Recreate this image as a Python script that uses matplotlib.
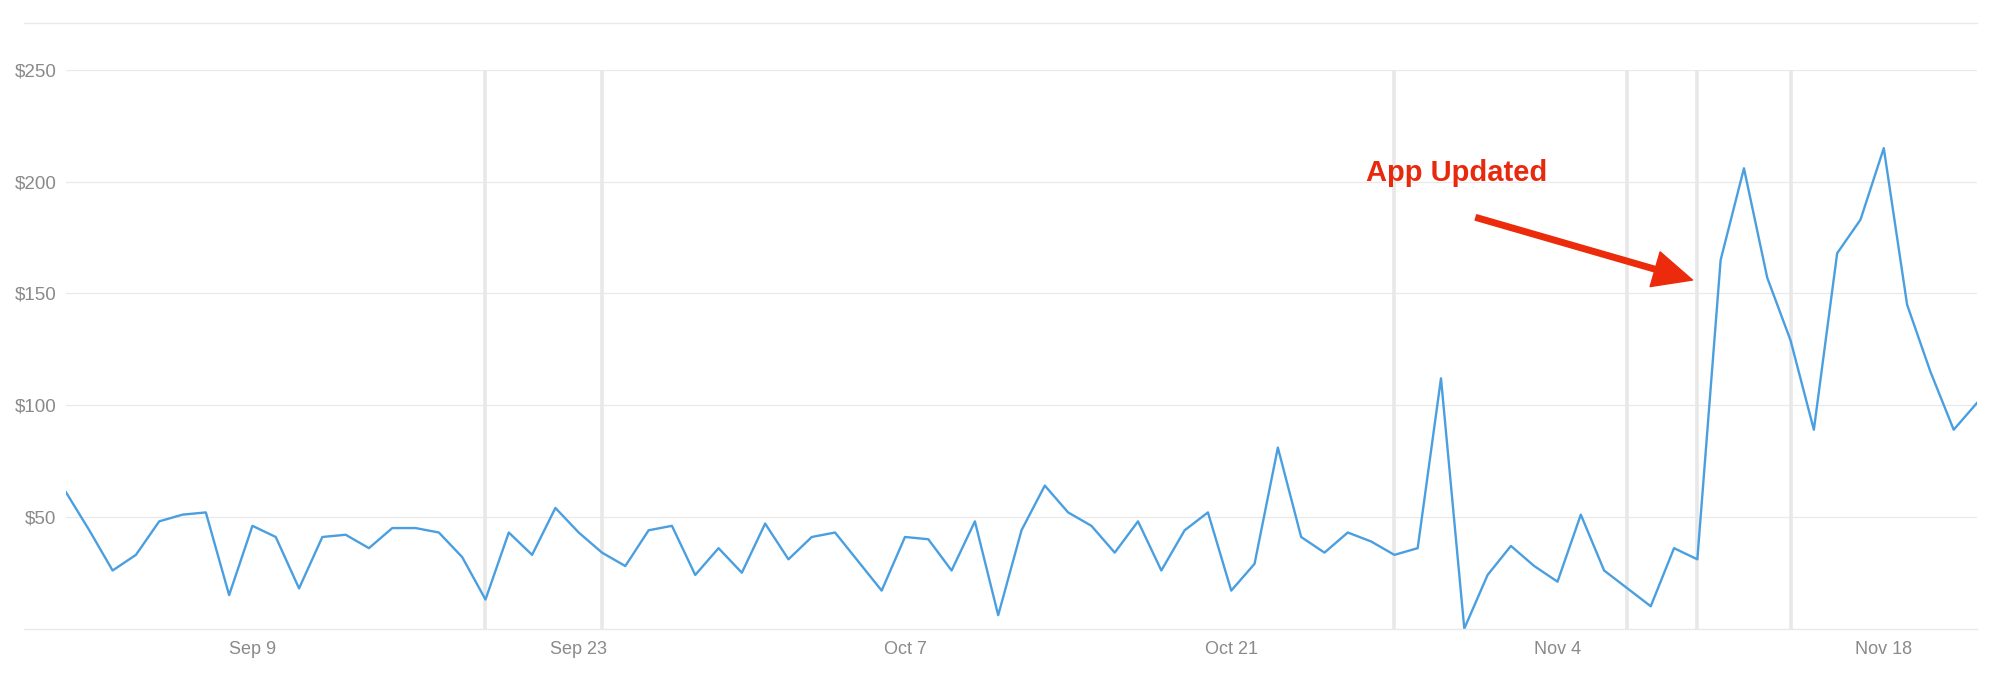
import numpy as np
import pandas as pd
import matplotlib
matplotlib.use('Agg')
import matplotlib.pyplot as plt
import matplotlib.dates as mdates
from matplotlib.lines import Line2D

# daily revenue, Sep 1 - Nov 22
dates = pd.date_range('2018-09-01', '2018-11-22', freq='D')
revenue = [61, 44, 26, 33, 48, 51, 52, 15, 46, 41,
           18, 41, 42, 36, 45, 45, 43, 32, 13, 43,
           33, 54, 43, 34, 28, 44, 46, 24, 36, 25,
           47, 31, 41, 43, 30, 17, 41, 40, 26, 48,
           6, 44, 64, 52, 46, 34, 48, 26, 44, 52,
           17, 29, 81, 41, 34, 43, 39, 33, 36, 112,
           0, 24, 37, 28, 21, 51, 26, 18, 10, 36,
           31, 165, 206, 157, 129, 89, 168, 183, 215, 145,
           115, 89, 101]

marker_days = ['2018-09-19', '2018-09-24', '2018-10-28', '2018-11-07', '2018-11-10', '2018-11-14']
tick_days = ['2018-09-09', '2018-09-23', '2018-10-07', '2018-10-21', '2018-11-04', '2018-11-18']
y_ticks = [50, 100, 150, 200, 250]

plt.rcParams['font.family'] = ['Liberation Sans', 'DejaVu Sans']

fig = plt.figure(figsize=(20, 6.91), dpi=100)
ax = fig.add_axes([66/2000, 62.4/691, 1911/2000, 558.6/691])

for d in marker_days:
    ax.axvline(pd.Timestamp(d), color='#e8e8e8', lw=2.6, zorder=1)

for v in y_ticks:
    ax.axhline(v, color='#e9e9e9', lw=0.9, zorder=0)

ax.plot(dates, revenue, color='#4a9fe0', lw=1.7, zorder=3)

ax.set_xlim(dates[0], dates[-1])
ax.set_ylim(0, 250)
ax.set_yticks(y_ticks)
ax.set_yticklabels(['$%d' % v for v in y_ticks])
ax.set_xticks([pd.Timestamp(d) for d in tick_days])
ax.xaxis.set_major_formatter(mdates.DateFormatter('%b %-d'))
ax.tick_params(length=0, labelcolor='#8a8a8a')
ax.tick_params(axis='y', pad=7, labelsize=13.5)
ax.tick_params(axis='x', pad=9, labelsize=13)
for s in ax.spines.values():
    s.set_visible(False)

# border lines spanning the full width
fig.add_artist(Line2D([24/2000, 1977/2000], [1 - 23/691] * 2, color='#e9e9e9', lw=1))
fig.add_artist(Line2D([24/2000, 1977/2000], [62.4/691] * 2, color='#e9e9e9', lw=1))

# annotation
ax.annotate('', xy=(pd.Timestamp('2018-11-09 19:00'), 156),
            xytext=(pd.Timestamp('2018-10-31 12:00'), 184),
            arrowprops=dict(facecolor='#ec2a0c', edgecolor='#ec2a0c',
                            width=4, headwidth=26, headlength=28, shrink=0),
            zorder=5)
ax.text(pd.Timestamp('2018-10-30 16:00'), 204, 'App Updated', color='#e8290e',
        fontsize=21, fontweight='bold', ha='center', va='center', zorder=5)

plt.savefig('out.png', dpi=100)
